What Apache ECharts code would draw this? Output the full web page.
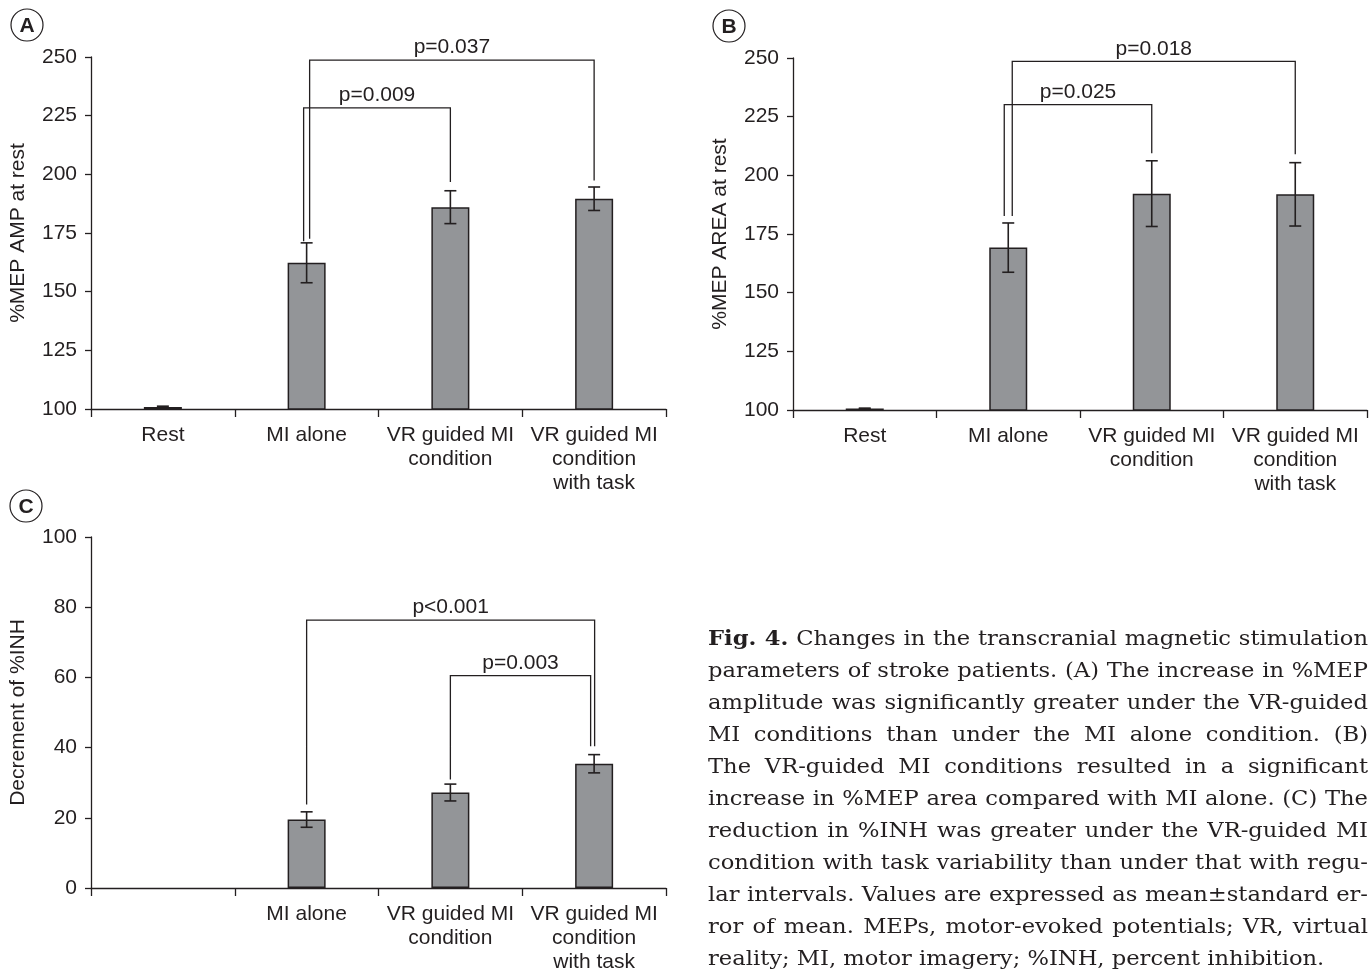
<!DOCTYPE html>
<html><head><meta charset="utf-8">
<script src="https://cdn.jsdelivr.net/npm/echarts@6/dist/echarts.min.js"></script>
<style>
html,body{margin:0;padding:0;background:#fff;}
#chart{position:absolute;left:0;top:0;width:1372px;height:974px;}
#caption{position:absolute;left:708px;top:622px;width:2000px;transform-origin:0 0;font-family:'DejaVu Serif',serif;font-size:20.5px;line-height:32px;color:#231f20;}
#caption div{white-space:nowrap;}
#caption span{display:inline-block;white-space:nowrap;}
</style></head>
<body>
<div id="chart"></div>
<div id="caption">
<div><span><b>Fig. 4.</b> Changes in the transcranial magnetic stimulation</span></div>
<div><span>parameters of stroke patients. (A) The increase in %MEP</span></div>
<div><span>amplitude was significantly greater under the VR-guided</span></div>
<div><span>MI conditions than under the MI alone condition. (B)</span></div>
<div><span>The VR-guided MI conditions resulted in a significant</span></div>
<div><span>increase in %MEP area compared with MI alone. (C) The</span></div>
<div><span>reduction in %INH was greater under the VR-guided MI</span></div>
<div><span>condition with task variability than under that with regu-</span></div>
<div><span>lar intervals. Values are expressed as mean±standard er-</span></div>
<div><span>ror of mean. MEPs, motor-evoked potentials; VR, virtual</span></div>
<div><span class="last">reality; MI, motor imagery; %INH, percent inhibition.</span></div>
</div>
<script>
// ---------- data ----------
const categoriesAB = ['Rest', 'MI alone', 'VR guided MI\ncondition', 'VR guided MI\ncondition\nwith task'];
const categoriesC = ['', 'MI alone', 'VR guided MI\ncondition', 'VR guided MI\ncondition\nwith task'];

const ampMean = [100.8, 162.3, 186.0, 189.6];
const ampErr  = [0.4, 8.5, 7.0, 5.0];
const areaMean = [100.6, 169.2, 192.2, 191.9];
const areaErr  = [0.2, 10.5, 14.0, 13.5];
const inhMean = [null, 19.5, 27.2, 35.4];
const inhErr  = [null, 2.2, 2.4, 2.6];

const axisAB = {min: 100, max: 250, interval: 25};
const axisC = {min: 0, max: 100, interval: 20};

const nameA = '%MEP AMP at rest';
const nameB = '%MEP AREA at rest';
const nameC = 'Decrement of %INH';

// brackets: [left category, right category, bar level, left foot, right foot]
const ampBrackets = [[1, 2, 228.3, 171.5, 196.7], [1, 3, 248.7, 172.5, 197.4]];
const ampP = ['p=0.009', 'p=0.037'];
const areaBrackets = [[1, 2, 230.1, 182.7, 209.4], [1, 3, 248.6, 182.7, 209.0]];
const areaP = ['p=0.025', 'p=0.018'];
const inhBrackets = [[2, 3, 60.5, 30.9, 40.4], [1, 3, 76.3, 23.8, 40.4]];
const inhP = ['p=0.003', 'p<0.001'];

// ---------- caption fit: condense to the reference width and justify lines ----------
(function () {
  const cap = document.getElementById('caption');
  const spans = Array.from(cap.querySelectorAll('span'));
  const widths = spans.map(sp => sp.getBoundingClientRect().width);
  const lastW = widths[widths.length - 1];
  const maxW = Math.max.apply(null, widths.slice(0, -1));
  const s = Math.min(622 / lastW, 658 / maxW);
  const target = 660 / s;
  spans.forEach((sp, i) => {
    if (sp.classList.contains('last')) return;
    const spaces = (sp.textContent.match(/ /g) || []).length;
    sp.style.wordSpacing = ((target - widths[i]) / spaces) + 'px';
  });
  cap.style.transform = 'scaleX(' + s + ')';
})();

// ---------- styling ----------
const INK = '#231f20';
const FONT = 'Liberation Sans';
const FS = 21;
const legShiftA = [[-3, 0], [3, 0]];
const legShiftB = [[-4, 0], [4, 0]];
const legShiftC = [[0, -3.5], [0, 0.5]];

const grids = [
  {left: 91, top: 57, width: 575, height: 352},
  {left: 793, top: 58, width: 574, height: 352},
  {left: 91, top: 537, width: 575, height: 352}
];

function xAx(gi, cats) {
  return {
    type: 'category', gridIndex: gi, data: cats,
    axisLine: {lineStyle: {color: INK, width: 1.3}},
    axisTick: {show: true, length: 8, lineStyle: {color: INK, width: 1.3}},
    axisLabel: {interval: 0, color: INK, fontFamily: FONT, fontSize: FS, lineHeight: 24, margin: 14}
  };
}
function yAx(gi, ax, name) {
  return {
    type: 'value', gridIndex: gi, min: ax.min, max: ax.max, interval: ax.interval,
    axisLine: {show: true, lineStyle: {color: INK, width: 1.3}},
    axisTick: {show: true, length: 6, lineStyle: {color: INK, width: 1.3}},
    splitLine: {show: false},
    axisLabel: {color: INK, fontFamily: FONT, fontSize: FS, margin: 14},
    name: name, nameLocation: 'middle', nameGap: 62,
    nameTextStyle: {color: INK, fontFamily: FONT, fontSize: FS}
  };
}
function barSeries(gi, means) {
  return {
    type: 'bar', xAxisIndex: gi, yAxisIndex: gi, barWidth: 38,
    data: means.map(v => v == null ? '-' : v),
    itemStyle: {color: '#939598', borderColor: INK, borderWidth: 1.5},
    silent: true, z: 2
  };
}
function errSeries(gi, means, errs) {
  const data = [];
  means.forEach((m, i) => { if (m != null) data.push([i, m, errs[i]]); });
  return {
    type: 'custom', xAxisIndex: gi, yAxisIndex: gi, z: 3, silent: true,
    encode: {x: 0, y: 1},
    data: data,
    renderItem: function (params, api) {
      const i = api.value(0), m = api.value(1), e = api.value(2);
      const t = api.coord([i, m + e]), b = api.coord([i, m - e]);
      const hw = 6;
      const st = {stroke: INK, lineWidth: 1.6};
      return {type: 'group', children: [
        {type: 'line', shape: {x1: t[0], y1: t[1], x2: b[0], y2: b[1]}, style: st},
        {type: 'line', shape: {x1: t[0] - hw, y1: t[1], x2: t[0] + hw, y2: t[1]}, style: st},
        {type: 'line', shape: {x1: b[0] - hw, y1: b[1], x2: b[0] + hw, y2: b[1]}, style: st}
      ]};
    }
  };
}
function bracketSeries(gi, brackets, labels, shifts) {
  return {
    type: 'custom', xAxisIndex: gi, yAxisIndex: gi, z: 4, silent: true,
    encode: {x: [0, 1], y: [2, 3, 4]},
    data: brackets,
    renderItem: function (params, api) {
      const l = api.value(0), r = api.value(1), y = api.value(2), ly = api.value(3), ry = api.value(4);
      const pL = api.coord([l, ly]), pR = api.coord([r, ry]), pT = api.coord([l, y]);
      const sh = shifts[params.dataIndex];
      const xl = pL[0] + sh[0], xr = pR[0] + sh[1];
      return {type: 'group', children: [
        {type: 'polyline', shape: {points: [[xl, pL[1]], [xl, pT[1]], [xr, pT[1]], [xr, pR[1]]]},
         style: {stroke: INK, lineWidth: 1.3, fill: null}},
        {type: 'text', style: {text: labels[params.dataIndex], x: (xl + xr) / 2, y: pT[1] - 2,
          align: 'center', verticalAlign: 'bottom', fontFamily: FONT, fontSize: FS, fill: INK}}
      ]};
    }
  };
}
function panelLabel(cx, cy, letter) {
  return {type: 'group', children: [
    {type: 'circle', shape: {cx: cx, cy: cy, r: 16}, style: {fill: '#fff', stroke: INK, lineWidth: 1.2}},
    {type: 'text', style: {text: letter, x: cx, y: cy + 1, align: 'center', verticalAlign: 'middle',
      fontFamily: FONT, fontWeight: 'bold', fontSize: 21, fill: INK}}
  ]};
}

const chart = echarts.init(document.getElementById('chart'), null, {renderer: 'canvas'});
chart.setOption({
  animation: false,
  backgroundColor: '#fff',
  grid: grids,
  xAxis: [xAx(0, categoriesAB), xAx(1, categoriesAB), xAx(2, categoriesC)],
  yAxis: [yAx(0, axisAB, nameA), yAx(1, axisAB, nameB), yAx(2, axisC, nameC)],
  series: [
    barSeries(0, ampMean), errSeries(0, ampMean, ampErr), bracketSeries(0, ampBrackets, ampP, legShiftA),
    barSeries(1, areaMean), errSeries(1, areaMean, areaErr), bracketSeries(1, areaBrackets, areaP, legShiftB),
    barSeries(2, inhMean), errSeries(2, inhMean, inhErr), bracketSeries(2, inhBrackets, inhP, legShiftC)
  ],
  graphic: [panelLabel(27, 25, 'A'), panelLabel(729, 26, 'B'), panelLabel(26, 506, 'C')]
});
</script>
</body></html>
